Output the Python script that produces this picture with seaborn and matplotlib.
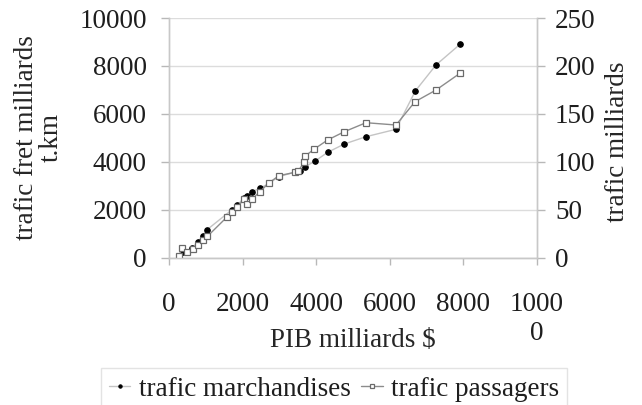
import matplotlib
matplotlib.use("Agg")
import matplotlib.pyplot as plt
import numpy as np
import pandas as pd
import seaborn as sns

# PIB (milliards $) vs trafic fret (milliards t.km)
pib_fret = [280, 389, 616, 797, 915, 1024, 1700, 1850, 2050, 2111, 2255, 2473,
            2717, 2981, 3550, 3696, 3959, 4312, 4764, 5353, 6168, 6693, 7255, 7908]
fret = [80, 220, 384, 660, 911, 1148, 1980, 2180, 2500, 2581, 2748, 2889,
        3097, 3374, 3620, 3791, 4017, 4392, 4739, 5044, 5353, 6952, 8038, 8902]

# PIB (milliards $) vs trafic passagers (milliards)
pib_pass = [280, 345, 480, 643, 797, 915, 1041, 1585, 1704, 1856, 2048, 2111,
            2255, 2473, 2717, 2989, 3430, 3514, 3668, 3704, 3940, 4312, 4764,
            5353, 6168, 6685, 7255, 7908]
passagers = [2, 9.6, 6, 8.6, 13, 18, 22, 42.6, 47.8, 53, 61, 56,
             61, 68.7, 78, 85.4, 89, 90.3, 99.4, 106, 113, 122.7, 131.3,
             140.7, 138.3, 162.6, 174.8, 192.3]

x_ticks = [0, 2000, 4000, 6000, 8000, 10000]
x_tick_labels = ["0", "2000", "4000", "6000", "8000", "1000\n0"]
left_ticks = [0, 2000, 4000, 6000, 8000, 10000]
right_ticks = [0, 50, 100, 150, 200, 250]

FS = 19.5

sns.set_theme(style="white")
plt.rcParams["font.family"] = ["Liberation Serif", "DejaVu Serif"]
plt.rcParams["font.size"] = FS
plt.rcParams["text.color"] = "#1e1e1e"
plt.rcParams["xtick.color"] = "#b8b8b8"
plt.rcParams["ytick.color"] = "#b8b8b8"
plt.rcParams["xtick.labelcolor"] = "#1e1e1e"
plt.rcParams["ytick.labelcolor"] = "#1e1e1e"

fig = plt.figure(figsize=(6.42, 4.05), dpi=100)
ax = fig.add_axes([169 / 642, 1 - 257.5 / 405, 368 / 642, 239.5 / 405])
ax2 = ax.twinx()

df_f = pd.DataFrame({"pib": pib_fret, "fret": fret})
df_p = pd.DataFrame({"pib": pib_pass, "pass": passagers})

sns.lineplot(data=df_p, x="pib", y="pass", ax=ax2, color="#8c8c8c", linewidth=1,
             marker="s", markersize=4.6, markerfacecolor="white",
             markeredgecolor="#6a6a6a", markeredgewidth=0.9, legend=False)
sns.lineplot(data=df_f, x="pib", y="fret", ax=ax, color="#c4c4c4", linewidth=1,
             marker="o", markersize=4, markerfacecolor="black",
             markeredgecolor="black", legend=False)

ax.set_xlim(0, 10000)
ax.set_ylim(0, 10000)
ax2.set_ylim(0, 250)
ax.set_xticks(x_ticks)
ax.set_xticklabels(x_tick_labels, fontsize=FS)
ax.set_yticks(left_ticks)
ax.set_yticklabels([str(v) for v in left_ticks], fontsize=FS)
ax2.set_yticks(right_ticks)
ax2.set_yticklabels([str(v) for v in right_ticks], fontsize=FS)

ax.yaxis.grid(True, color="#dcdcdc", linewidth=1)
ax.xaxis.grid(False)
ax2.grid(False)

for a in (ax, ax2):
    a.spines["top"].set_visible(False)
    for s in ("left", "right", "bottom"):
        a.spines[s].set_color("#c8c8c8")
        a.spines[s].set_linewidth(1)

ax.tick_params(axis="y", which="both", left=True, length=6, width=1, pad=10)
ax.tick_params(axis="x", which="both", bottom=True, length=5, width=1, pad=20)
ax2.tick_params(axis="y", which="both", right=True, length=6, width=1, pad=7)

ax.set_xlabel("PIB milliards $", fontsize=FS, va="center")
ax.xaxis.set_label_coords(0.5, (257.5 - 340) / 239.5)
ax.set_ylabel("trafic fret milliards\nt.km", fontsize=FS, va="center",
              ha="center", linespacing=1.0)
ax.yaxis.set_label_coords((39 - 169) / 368, 0.5)
ax2.set_ylabel("trafic milliards", fontsize=FS, va="center", ha="center")
ax2.yaxis.set_label_coords((618 - 169) / 368, (257.5 - 142) / 239.5)

handles = [ax.lines[0], ax2.lines[0]]
leg = fig.legend(handles, ["trafic marchandises", "trafic passagers"],
                 loc="center", bbox_to_anchor=(334 / 642, 1 - 389 / 405),
                 ncol=2, fontsize=FS, frameon=True, fancybox=False,
                 handlelength=0.8, handletextpad=0.3, columnspacing=0.4,
                 borderpad=0.3, markerscale=0.6, borderaxespad=0)
leg.get_frame().set_edgecolor("#dcdcdc")
leg.get_frame().set_linewidth(1)

fig.savefig("out.png", dpi=100)
